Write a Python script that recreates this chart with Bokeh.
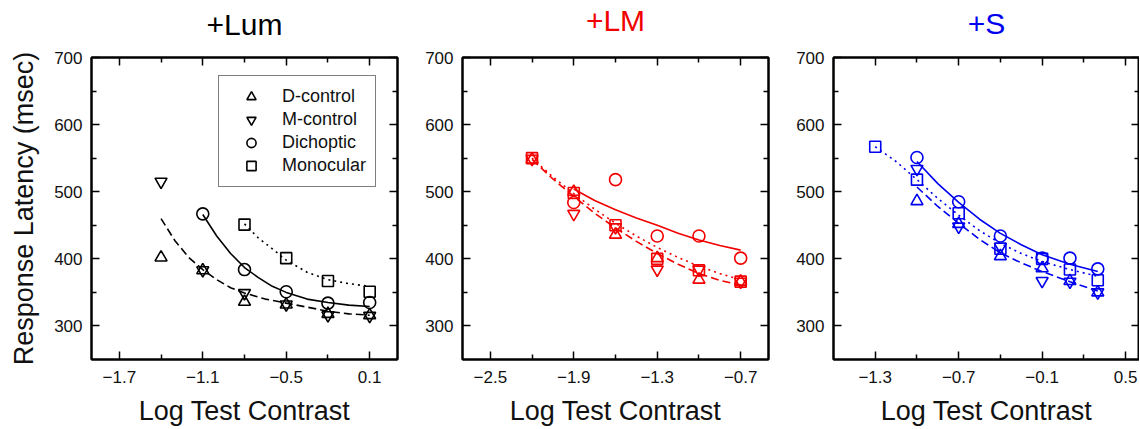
import numpy as np
from bokeh.plotting import figure
from bokeh.layouts import row
from bokeh.models import LinearAxis, FixedTicker, Range1d, Legend, LegendItem
from bokeh.embed import file_html
from bokeh.resources import INLINE

nan = float("nan")
FONT = "Liberation Sans"

# ---------------- data ----------------
# Panel +Lum
lum_x = [-1.4, -1.1, -0.8, -0.5, -0.2, 0.1]
lum_dctl = [402, 383, 336, 332, 318, 316]
lum_mctl = [515, 383, 349, 332, 316, 315]
lum_dich = [nan, 467, 384, 351, 334, 335]
lum_mono = [nan, nan, 451, 401, 367, 351]
lum_fit_ctl_x = [-1.4, -1.3, -1.2, -1.1, -1.0, -0.9, -0.8, -0.65, -0.5, -0.35, -0.2, -0.05, 0.1]
lum_fit_ctl_y = [460, 427, 402, 384, 369, 357, 349, 340, 334, 328, 322, 318, 316]
lum_fit_dich_x = [-1.1, -1.0, -0.9, -0.8, -0.7, -0.6, -0.5, -0.35, -0.2, -0.05, 0.1]
lum_fit_dich_y = [466, 434, 408, 387, 372, 359, 350, 340, 335, 331, 329]
lum_fit_mono_x = [-0.8, -0.7, -0.6, -0.5, -0.35, -0.2, -0.05, 0.1]
lum_fit_mono_y = [452, 431, 415, 398, 380, 369, 363, 359]

# Panel +LM
lm_x = [-2.2, -1.9, -1.6, -1.3, -1.0, -0.7]
lm_dctl = [548, 500, 436, 401, 369, 366]
lm_mctl = [549, 467, 447, 384, 384, 366]
lm_dich = [nan, 484, 518, 434, 434, 401]
lm_mono = [550, 498, 450, 400, 383, 366]
lm_fit_ctl_x = [-2.2, -2.05, -1.9, -1.75, -1.6, -1.45, -1.3, -1.15, -1.0, -0.85, -0.7]
lm_fit_ctl_y = [548, 519, 493, 468, 446, 426, 408, 392, 378, 368, 361]
lm_fit_dich_x = [-1.9, -1.75, -1.6, -1.45, -1.3, -1.15, -1.0, -0.85, -0.7]
lm_fit_dich_y = [504, 487, 473, 461, 450, 438, 428, 420, 413]
lm_fit_mono_x = [-2.2, -2.05, -1.9, -1.75, -1.6, -1.45, -1.3, -1.15, -1.0, -0.85, -0.7]
lm_fit_mono_y = [550, 522, 497, 474, 453, 434, 417, 402, 389, 378, 369]

# Panel +S
s_x = [-1.3, -1.0, -0.7, -0.4, -0.1, 0.1, 0.3]
s_dctl = [nan, 486, 452, 404, 386, 367, 350]
s_mctl = [nan, 534, 448, 418, 367, 366, 350]
s_dich = [nan, 551, 485, 434, 401, 401, 385]
s_mono = [567, 518, 468, 415, 400, 384, 368]
s_fit_ctl_x = [-1.0, -0.85, -0.7, -0.55, -0.4, -0.25, -0.1, 0.1, 0.3]
s_fit_ctl_y = [507, 478, 453, 429, 409, 394, 381, 366, 352]
s_fit_dich_x = [-1.0, -0.85, -0.7, -0.55, -0.4, -0.25, -0.1, 0.1, 0.3]
s_fit_dich_y = [545, 512, 484, 459, 438, 421, 406, 392, 381]
s_fit_mono_x = [-1.3, -1.15, -1.0, -0.85, -0.7, -0.55, -0.4, -0.25, -0.1, 0.1, 0.3]
s_fit_mono_y = [567, 545, 518, 490, 465, 442, 423, 408, 396, 384, 374]

# axes
y_major = [300, 400, 500, 600, 700]
y_minor = [350, 450, 550, 650]
lum_xticks = [-1.7, -1.1, -0.5, 0.1]
lum_xminor = [-1.4, -0.8, -0.2]
lm_xticks = [-2.5, -1.9, -1.3, -0.7]
lm_xminor = [-2.2, -1.6, -1.0]
s_xticks = [-1.3, -0.7, -0.1, 0.5]
s_xminor = [-1.0, -0.4, 0.2]

series_names = ["D-control", "M-control", "Dichoptic", "Monocular"]

H = 428
TOP = 56
BOTTOM = 68


def style_axis(ax, labels=True):
    ax.axis_line_width = 2
    ax.axis_line_color = "black"
    ax.major_tick_in = 8
    ax.major_tick_out = 0
    ax.minor_tick_in = 5
    ax.minor_tick_out = 0
    ax.major_tick_line_width = 1.5
    ax.minor_tick_line_width = 1.5
    ax.major_tick_line_color = "black"
    ax.minor_tick_line_color = "black"
    if labels:
        ax.major_label_text_font = FONT
        ax.major_label_text_font_size = "17px"
        ax.major_label_text_color = "#111111"
    else:
        ax.major_label_text_color = None
        ax.major_label_standoff = 0


def panel(title, color, xr, xmaj, xmin_, xs, dctl, mctl, dich, mono,
          fits, width, left, right, ylabel, title_standoff, legend=False):
    p = figure(width=width, height=H, x_range=Range1d(*xr), y_range=Range1d(250, 700),
               output_backend="svg", toolbar_location=None,
               min_border_left=left, min_border_right=right,
               min_border_top=TOP, min_border_bottom=BOTTOM)
    p.xgrid.visible = False
    p.ygrid.visible = False
    p.outline_line_color = "black"
    p.outline_line_width = 2
    p.background_fill_color = "white"
    p.border_fill_color = "white"

    p.xaxis.ticker = FixedTicker(ticks=xmaj, minor_ticks=xmin_)
    p.yaxis.ticker = FixedTicker(ticks=y_major, minor_ticks=y_minor)
    for ax in p.xaxis:
        style_axis(ax)
        ax.major_label_standoff = 11
        ax.axis_label = "Log Test Contrast"
        ax.axis_label_text_font = FONT
        ax.axis_label_text_font_size = "27px"
        ax.axis_label_text_font_style = "normal"
        ax.axis_label_text_color = "#111111"
        ax.axis_label_standoff = 10
    for ax in p.yaxis:
        style_axis(ax)
        ax.major_label_standoff = 9
        if ylabel:
            ax.axis_label = ylabel
            ax.axis_label_text_font = FONT
            ax.axis_label_text_font_size = "27px"
            ax.axis_label_text_font_style = "normal"
            ax.axis_label_text_color = "#111111"
            ax.axis_label_standoff = 12

    # mirrored top axis (ticks only) carrying the panel title
    top = LinearAxis(ticker=FixedTicker(ticks=xmaj, minor_ticks=xmin_))
    style_axis(top, labels=False)
    top.axis_label = title
    top.axis_label_text_font = FONT
    top.axis_label_text_font_size = "30px"
    top.axis_label_text_font_style = "normal"
    top.axis_label_text_color = color
    top.axis_label_standoff = title_standoff
    p.add_layout(top, "above")
    rgt = LinearAxis(ticker=FixedTicker(ticks=y_major, minor_ticks=y_minor))
    style_axis(rgt, labels=False)
    p.add_layout(rgt, "right")

    (cx, cy), (dx, dy), (mx, my) = fits
    lw = 1.6
    p.line(cx, cy, line_color=color, line_width=lw, line_dash="8 4")
    p.line(dx, dy, line_color=color, line_width=lw)
    p.line(mx, my, line_color=color, line_width=lw, line_dash="2 4")

    mlw = 1.6
    r1 = p.scatter(xs, dctl, marker="triangle", size=12, fill_color=None,
                   line_color=color, line_width=mlw)
    r2 = p.scatter(xs, mctl, marker="inverted_triangle", size=12, fill_color=None,
                   line_color=color, line_width=mlw)
    r3 = p.scatter(xs, dich, marker="circle", size=12, fill_color=None,
                   line_color=color, line_width=mlw)
    r4 = p.scatter(xs, mono, marker="square", size=11, fill_color=None,
                   line_color=color, line_width=mlw)
    if legend:
        lg = Legend(items=[LegendItem(label=n, renderers=[r]) for n, r in
                           zip(series_names, [r1, r2, r3, r4])],
                    location=(127, 172))
        lg.label_text_font = FONT
        lg.label_text_font_size = "18px"
        lg.label_text_color = "#111111"
        lg.glyph_width = 46
        lg.glyph_height = 23
        lg.label_height = 23
        lg.label_standoff = 8
        lg.spacing = 0
        lg.padding = 9
        lg.margin = 0
        lg.border_line_color = "black"
        lg.border_line_width = 1.5
        lg.background_fill_alpha = 1
        p.add_layout(lg)
    return p


p1 = panel("+Lum", "black", (-1.9, 0.3), lum_xticks, lum_xminor, lum_x,
           lum_dctl, lum_mctl, lum_dich, lum_mono,
           ((lum_fit_ctl_x, lum_fit_ctl_y), (lum_fit_dich_x, lum_fit_dich_y),
            (lum_fit_mono_x, lum_fit_mono_y)),
           416, 91, 19, "Response Latency (msec)", 17, legend=True)
p2 = panel("+LM", "#f20000", (-2.7, -0.5), lm_xticks, lm_xminor, lm_x,
           lm_dctl, lm_mctl, lm_dich, lm_mono,
           ((lm_fit_ctl_x, lm_fit_ctl_y), (lm_fit_dich_x, lm_fit_dich_y),
            (lm_fit_mono_x, lm_fit_mono_y)),
           371, 46, 19, None, 21)
p3 = panel("+S", "#0000f0", (-1.6, 0.6), s_xticks, s_xminor, s_x,
           s_dctl, s_mctl, s_dich, s_mono,
           ((s_fit_ctl_x, s_fit_ctl_y), (s_fit_dich_x, s_fit_dich_y),
            (s_fit_mono_x, s_fit_mono_y)),
           352, 46, 0, None, 18)

layout = row(p1, p2, p3)
open("out.html", "w").write(file_html(layout, INLINE))
